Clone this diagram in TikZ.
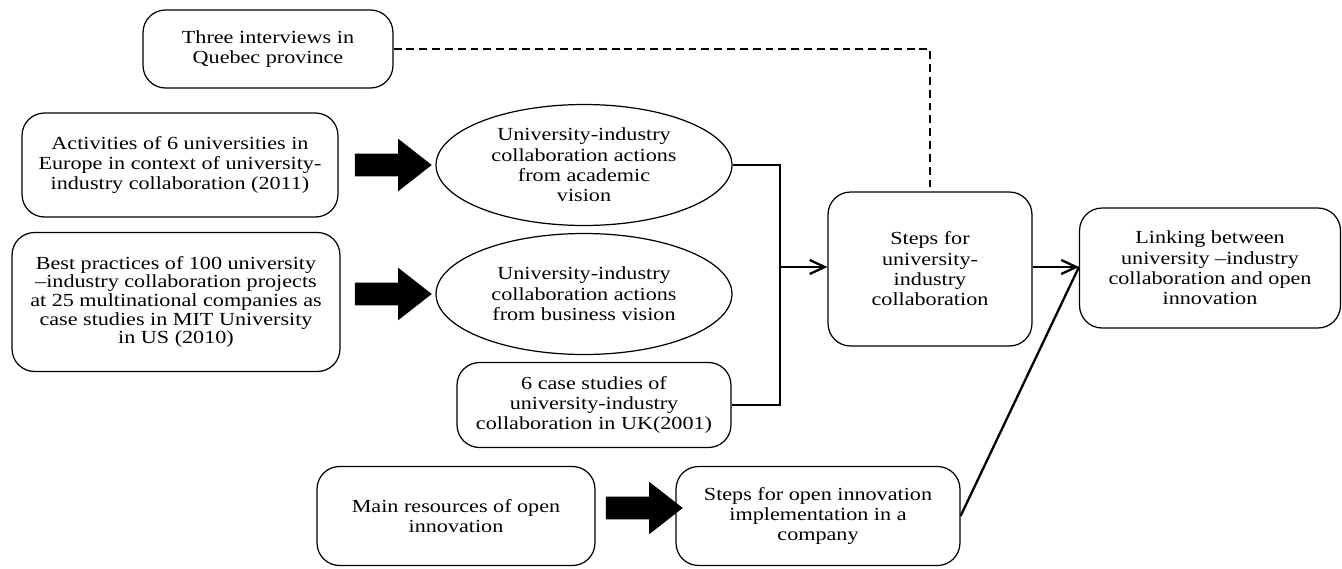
\documentclass[tikz,border=0pt]{standalone}
\usepackage{fontspec}
\setmainfont{Liberation Serif}[FakeStretch=1.2]
\usepackage{tikz}
\usetikzlibrary{shapes.geometric,shapes.arrows,arrows.meta,positioning}
\tikzset{every node/.append style={align=center}}

\begin{document}
\begin{tikzpicture}[x=0.02cm, y=-0.02cm,
    source/.style={draw, rounded corners=0.45cm, line width=0.7pt, inner sep=2pt, font=\fontsize{10.5}{11.6}\selectfont},
    vision/.style={draw, ellipse, line width=0.7pt, minimum width=5.92cm, minimum height=2.42cm, inner sep=0pt, font=\fontsize{10.5}{11.6}\selectfont},
    bigarrow/.style={single arrow, fill=black, inner sep=0pt, text height=0.44cm, text depth=0pt, minimum height=1.54cm, minimum width=1.04cm, single arrow head extend=0.3cm, single arrow tip angle=76},
    link/.style={line width=1.3pt},
    flow/.style={-{Straight Barb[length=3mm,width=2.8mm]}, line width=1.3pt}
]
    \useasboundingbox (0,0) rectangle (1342,568);

    % Sources
    \node[source, minimum width=5cm, minimum height=1.56cm] (interviews) at (268, 49) {Three interviews in\\Quebec province};
    \node[source, minimum width=6.32cm, minimum height=2.08cm] (europe) at (180, 165) {Activities of 6 universities in\\Europe in context of university-\\industry collaboration (2011)};
    \node[source, minimum width=6.56cm, minimum height=2.78cm, font=\fontsize{10.5}{10.6}\selectfont] (mit) at (176, 302) {Best practices of 100 university\\--industry collaboration projects\\at 25 multinational companies as\\case studies in MIT University\\in US (2010)};
    \node[source, minimum width=5.48cm, minimum height=1.7cm] (ukcases) at (594, 405) {6 case studies of\\university-industry\\collaboration in UK(2001)};
    \node[source, minimum width=5.56cm, minimum height=1.98cm] (resources) at (456, 516) {Main resources of open\\innovation};

    % Visions
    \node[vision] (academic) at (584, 165) {University-industry\\collaboration actions\\from academic\\vision};
    \node[vision] (business) at (584, 294) {University-industry\\collaboration actions\\from business vision};

    % Steps
    \node[source, minimum width=4.08cm, minimum height=3.08cm] (uisteps) at (930, 269) {Steps for\\university-\\industry\\collaboration};
    \node[source, minimum width=5.68cm, minimum height=1.98cm] (oisteps) at (818, 516) {Steps for open innovation\\implementation in a\\company};
    \node[source, minimum width=5.22cm, minimum height=2.4cm] (linking) at (1210, 268) {Linking between\\university --industry\\collaboration and open\\innovation};

    % Block arrows
    \node[bigarrow] (arrowA) at (386, 165) {};
    \node[bigarrow] (arrowB) at (386, 294) {};
    \node[bigarrow] (arrowC) at (637, 508) {};

    % Flows
    \coordinate (merge) at (780, 267);
    \draw[link] (academic.east) -| (merge);
    \draw[link] (ukcases.east) -| (merge);
    \draw[flow] (merge) -- (uisteps.west |- merge);
    \draw[flow] (uisteps.east |- 0,267) -- (linking.west |- 0,267);
    \draw[link] (oisteps.east) -- (linking.west |- 0,267);
    \draw[link, dash pattern=on 4.5pt off 2.8pt] (interviews.east) -| (uisteps.north);

\end{tikzpicture}
\end{document}
